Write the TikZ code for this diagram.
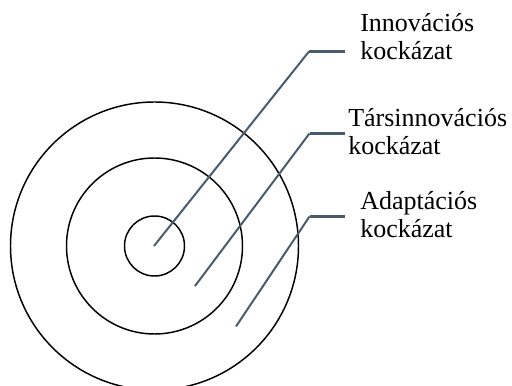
\documentclass[tikz,border=0pt]{standalone}
\usepackage{fontspec}
\setmainfont{Liberation Serif}
\begin{document}
\begin{tikzpicture}[x=0.75pt,y=0.75pt,
  ring/.style={draw=black,line width=1.1pt},
  lead/.style={draw=leadcol,line width=1.5pt},
  leadtip/.style={draw=leadcol,line width=2.4pt},
  lbl/.style={anchor=base west,inner sep=0pt,align=left,
    font=\fontsize{19.5}{21}\selectfont}]
\definecolor{leadcol}{HTML}{4A5B6E}
\useasboundingbox (0,0) rectangle (512,386);
\begin{scope}
\clip (0,0) rectangle (512,386);
% concentric risk rings
\coordinate (c) at (154.5,140);
\draw[ring] (c) circle[radius=30];
\draw[ring] (c) circle[radius=88];
\draw[ring] (c) circle[radius=144];
\end{scope}
% labels (base anchor sits on the last line)
\node[lbl] (inno) at (360,326) {Innovációs\\kockázat};
\node[lbl] (tars) at (348,231) {Társinnovációs\\kockázat};
\node[lbl] (adap) at (360,148) {Adaptációs\\kockázat};
% leader lines
\coordinate (s1) at (154,140);
\coordinate (k1) at (309,334.5);
\coordinate (e1) at (345,334.5);
\coordinate (s2) at (195,100);
\coordinate (k2) at (309.5,252.5);
\coordinate (e2) at (345,252.5);
\coordinate (s3) at (236,59.5);
\coordinate (k3) at (309.5,169.5);
\coordinate (e3) at (345,169.5);
\foreach \i in {1,2,3}{
  \draw[lead] (s\i) -- (k\i);
  \draw[leadtip] (k\i) -- (e\i);
}
\end{tikzpicture}
\end{document}
